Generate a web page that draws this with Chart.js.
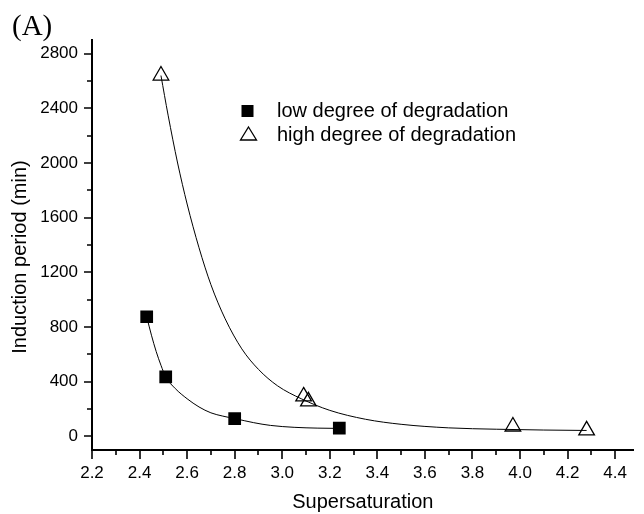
<!DOCTYPE html>
<html>
<head>
<meta charset="utf-8">
<script src="https://cdn.jsdelivr.net/npm/chart.js@4.4.1/dist/chart.umd.min.js"></script>
<style>
  html, body { margin: 0; padding: 0; background: #fff; }
  #wrap { width: 644px; height: 514px; }
</style>
</head>
<body>
<div id="wrap"><canvas id="chart" width="644" height="514"></canvas></div>
<script>
// measured points
const lowX = [2.43, 2.51, 2.80, 3.24];
const lowY = [875, 435, 130, 60];
const highX = [2.49, 3.09, 3.11, 3.97, 4.28];
const highY = [2640, 292, 256, 72, 44];

// fitted curves
const lowFitX = [2.43, 2.45, 2.47, 2.49, 2.51, 2.55, 2.60, 2.65, 2.70, 2.75, 2.80, 2.88, 2.95, 3.05, 3.15, 3.24];
const lowFitY = [875, 740, 620, 520, 435, 350, 275, 215, 172, 148, 130, 100, 80, 66, 60, 58];
const highFitX = [2.49, 2.52, 2.56, 2.60, 2.65, 2.70, 2.76, 2.83, 2.90, 2.98, 3.08, 3.20, 3.35, 3.50, 3.70, 3.90, 4.10, 4.28];
const highFitY = [2640, 2350, 2000, 1700, 1380, 1110, 860, 640, 490, 370, 275, 190, 125, 88, 62, 52, 46, 43];

// axis ticks
const xTicks = [2.2, 2.4, 2.6, 2.8, 3.0, 3.2, 3.4, 3.6, 3.8, 4.0, 4.2, 4.4];
const xMinor = [2.3, 2.5, 2.7, 2.9, 3.1, 3.3, 3.5, 3.7, 3.9, 4.1, 4.3];
const yTicks = [0, 400, 800, 1200, 1600, 2000, 2400, 2800];
const yMinor = [200, 600, 1000, 1400, 1800, 2200, 2600];

const legendLabels = ['low degree of degradation', 'high degree of degradation'];
const FONT = "'Liberation Sans', Arial, sans-serif";

const pts = (xs, ys) => xs.map((x, i) => ({ x: x, y: ys[i] }));

// ticks, axis titles, legend and panel letter
const decor = {
  id: 'decor',
  afterDraw(chart) {
    const { ctx, chartArea: a, scales: { x, y } } = chart;
    ctx.save();
    ctx.strokeStyle = '#000';
    ctx.lineWidth = 1.6;
    ctx.beginPath();
    xTicks.forEach(v => { const p = Math.round(x.getPixelForValue(v)); ctx.moveTo(p, a.bottom); ctx.lineTo(p, a.bottom + 9); });
    xMinor.forEach(v => { const p = Math.round(x.getPixelForValue(v)); ctx.moveTo(p, a.bottom); ctx.lineTo(p, a.bottom + 5); });
    yTicks.forEach(v => { const p = Math.round(y.getPixelForValue(v)); ctx.moveTo(a.left, p); ctx.lineTo(a.left - 8, p); });
    yMinor.forEach(v => { const p = Math.round(y.getPixelForValue(v)); ctx.moveTo(a.left, p); ctx.lineTo(a.left - 5, p); });
    ctx.stroke();

    ctx.fillStyle = '#000';
    // x title
    ctx.font = '20px ' + FONT;
    ctx.textAlign = 'center';
    ctx.textBaseline = 'alphabetic';
    ctx.fillText('Supersaturation', (a.left + a.right) / 2, 508);
    // y title
    ctx.save();
    ctx.translate(20, 257);
    ctx.rotate(-Math.PI / 2);
    ctx.textBaseline = 'middle';
    ctx.fillText('Induction period (min)', 0, 0);
    ctx.restore();

    // legend
    ctx.textAlign = 'left';
    ctx.textBaseline = 'middle';
    ctx.fillRect(241.5, 105, 12, 12);
    ctx.fillText(legendLabels[0], 277, 111);
    ctx.lineWidth = 1.3;
    ctx.beginPath();
    ctx.moveTo(248.5, 127);
    ctx.lineTo(256.5, 140);
    ctx.lineTo(240.5, 140);
    ctx.closePath();
    ctx.stroke();
    ctx.fillText(legendLabels[1], 277, 135);

    // panel letter
    ctx.font = "29px 'Liberation Serif', 'Times New Roman', serif";
    ctx.textBaseline = 'alphabetic';
    ctx.fillText('(A)', 12, 35);
    ctx.restore();
  }
};

new Chart(document.getElementById('chart'), {
  type: 'scatter',
  data: {
    datasets: [
      {
        label: 'low fit', type: 'line', data: pts(lowFitX, lowFitY), order: 2,
        borderColor: '#000', borderWidth: 1, pointRadius: 0, cubicInterpolationMode: 'monotone', fill: false
      },
      {
        label: 'high fit', type: 'line', data: pts(highFitX, highFitY), order: 2,
        borderColor: '#000', borderWidth: 1, pointRadius: 0, cubicInterpolationMode: 'monotone', fill: false
      },
      {
        label: legendLabels[0], data: pts(lowX, lowY), order: 1,
        pointStyle: 'rect', pointRadius: 9, backgroundColor: '#000', borderColor: '#000', borderWidth: 0
      },
      {
        label: legendLabels[1], data: pts(highX, highY), order: 1,
        pointStyle: 'triangle', pointRadius: 9, backgroundColor: 'rgba(0,0,0,0)', borderColor: '#000', borderWidth: 1.3
      }
    ]
  },
  options: {
    responsive: false,
    animation: false,
    devicePixelRatio: 1,
    layout: { padding: { top: 40, left: 0, right: 0, bottom: 0 } },
    plugins: { legend: { display: false }, tooltip: { enabled: false } },
    scales: {
      x: {
        type: 'linear', min: 2.2, max: 4.478,
        afterBuildTicks: s => { s.ticks = xTicks.map(v => ({ value: v })); },
        afterFit: s => { s.height = 64; },
        grid: { display: true, drawOnChartArea: false, drawTicks: false },
        border: { display: true, color: '#000', width: 2 },
        ticks: { color: '#000', padding: 13, font: { family: FONT, size: 17 }, callback: v => v.toFixed(1), maxRotation: 0, autoSkip: false }
      },
      y: {
        type: 'linear', min: -100, max: 2900,
        afterBuildTicks: s => { s.ticks = yTicks.map(v => ({ value: v })); },
        afterFit: s => { s.width = 92; },
        grid: { display: true, drawOnChartArea: false, drawTicks: false },
        border: { display: true, color: '#000', width: 2 },
        ticks: { color: '#000', padding: 14, font: { family: FONT, size: 17 }, callback: v => String(v), autoSkip: false }
      }
    }
  },
  plugins: [decor]
});
</script>
</body>
</html>
